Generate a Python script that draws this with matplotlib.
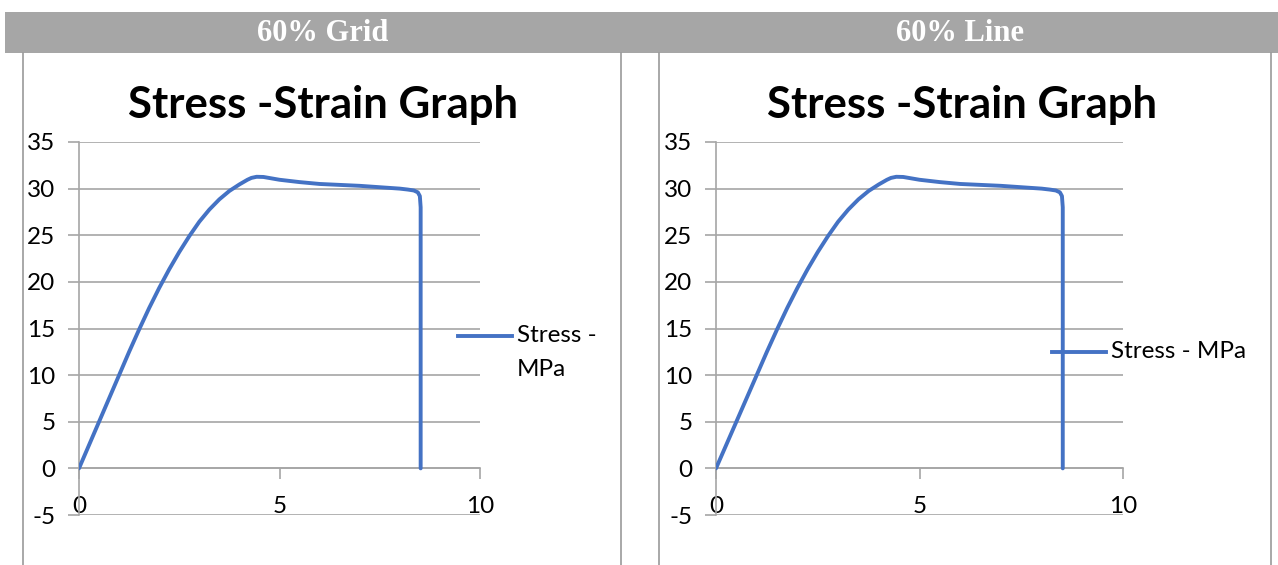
import matplotlib
matplotlib.use("Agg")
import matplotlib.pyplot as plt
from matplotlib.patches import Rectangle
from matplotlib.lines import Line2D

plt.rcParams["axes.unicode_minus"] = False

# ---- data ----
headers = ["60% Grid", "60% Line"]
chart_title = "Stress -Strain Graph"
series_name = "Stress - MPa"
strain = [0, 0.5, 1.0, 1.25, 1.5, 1.75, 2.0, 2.25, 2.5, 2.75, 3.0, 3.25, 3.5,
          3.75, 4.0, 4.1, 4.2, 4.3, 4.43, 4.6, 4.8, 5.0, 5.5, 6.0, 6.5, 7.0,
          7.5, 8.0, 8.2, 8.35, 8.45, 8.5, 8.52, 8.52]
stress = [0, 5.0, 10.0, 12.5, 14.9, 17.2, 19.35, 21.35, 23.2, 24.9, 26.45,
          27.75, 28.85, 29.75, 30.45, 30.7, 30.95, 31.15, 31.27, 31.25, 31.1,
          30.95, 30.7, 30.5, 30.4, 30.3, 30.15, 30.0, 29.9, 29.8, 29.6, 29.2,
          28.0, 0]
x_ticks = [0, 5, 10]
y_ticks = [-5, 0, 5, 10, 15, 20, 25, 30, 35]

W, H = 1278, 565
fig = plt.figure(figsize=(W / 100, H / 100), dpi=100)
fig.patch.set_facecolor("white")

def fx(px):
    return px / W

def fy(py):
    return 1 - py / H

# header bar
fig.patches.append(Rectangle((fx(5), fy(53)), fx(1278) - fx(5), fy(12) - fy(53),
                             transform=fig.transFigure, facecolor="#a6a6a6",
                             edgecolor="none", zorder=0))
for cx, txt in zip([323, 960], headers):
    fig.text(fx(cx), fy(41), txt, ha="center", va="baseline", color="white",
             fontsize=22, fontweight="bold", family="Liberation Serif")

# cell borders
for bx in [23, 621, 659, 1271]:
    fig.lines.append(Line2D([fx(bx), fx(bx)], [fy(53), fy(565)],
                            transform=fig.transFigure, color="#9a9a9a", lw=1.2))

blue = "#4472C4"
grid_c = "#a6a6a6"
font = "Lato"
tick_fs = 17.5

def make_chart(left_px, right_px, title_cx, legend_mode):
    ax = fig.add_axes([fx(left_px), fy(515), fx(right_px) - fx(left_px), fy(142) - fy(515)])
    ax.plot(strain, stress, color=blue, lw=2.8, solid_capstyle="round",
            solid_joinstyle="round", zorder=3)
    ax.set_xlim(0, 10)
    ax.set_ylim(-5, 35)
    ax.set_yticks(y_ticks)
    ax.set_xticks(x_ticks)
    for s in ["top", "right"]:
        ax.spines[s].set_visible(False)
    ax.spines["left"].set_color(grid_c)
    ax.spines["left"].set_linewidth(1.2)
    ax.spines["bottom"].set_position(("data", 0))
    ax.spines["bottom"].set_color(grid_c)
    ax.spines["bottom"].set_linewidth(1.2)
    ax.yaxis.grid(True, color=grid_c, lw=1.2)
    ax.set_axisbelow(True)
    ax.tick_params(axis="y", direction="out", length=8, width=1.2, color=grid_c,
                   labelsize=tick_fs, pad=9)
    ax.tick_params(axis="x", direction="out", length=8, width=1.2, color=grid_c,
                   labelsize=tick_fs, pad=12)
    for lab in ax.get_xticklabels() + ax.get_yticklabels():
        lab.set_family(font)
    ax.set_facecolor("none")
    fig.text(fx(title_cx), fy(105), chart_title, ha="center", va="center",
             fontsize=31.5, fontweight="bold", family=font)
    if legend_mode == "wrap":
        fig.lines.append(Line2D([fx(458), fx(512)], [fy(336), fy(336)],
                                transform=fig.transFigure, color=blue, lw=2.8))
        fig.text(fx(517), fy(336), "Stress -", ha="left", va="center",
                 fontsize=tick_fs, family=font)
        fig.text(fx(517), fy(369), "MPa", ha="left", va="center",
                 fontsize=tick_fs, family=font)
    else:
        fig.lines.append(Line2D([fx(1052), fx(1106)], [fy(352), fy(352)],
                                transform=fig.transFigure, color=blue, lw=2.8))
        fig.text(fx(1111), fy(352), series_name, ha="left", va="center",
                 fontsize=tick_fs, family=font)
    return ax

make_chart(79, 480, 323, "wrap")
make_chart(716, 1123, 962, "single")

fig.savefig("out.png", dpi=100)
